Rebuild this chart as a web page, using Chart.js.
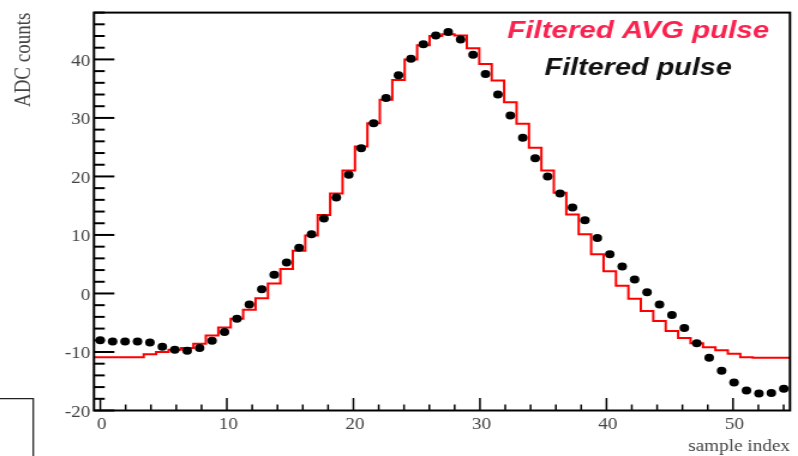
<!DOCTYPE html>
<html>
<head>
<meta charset="utf-8">
<script src="https://cdn.jsdelivr.net/npm/chart.js@4.4.1/dist/chart.umd.min.js"></script>
<style>
  html, body { margin: 0; padding: 0; background: #fff; }
</style>
</head>
<body>
<!-- drawn at 665 wide and stretched to 798 on screen, like the old ROOT export -->
<canvas id="pulseChart" width="665" height="456" style="width:798px;height:456px;display:block"></canvas>
<script>
const xRange = [-0.5, 54.5];
const yRange = [-20, 48];
const xTickValues = [0, 10, 20, 30, 40, 50];
const yTickValues = [-20, -10, 0, 10, 20, 30, 40];

// filtered pulse, one value per sample (ADC counts)
const pulse = [
  -8.0, -8.2, -8.2, -8.2, -8.4, -9.1, -9.6, -9.8, -9.3, -8.1,
  -6.6, -4.3, -1.9, 0.7, 3.2, 5.3, 7.8, 10.1, 12.8, 16.4,
  20.3, 24.8, 29.1, 33.4, 37.3, 40.1, 42.6, 44.1, 44.7, 43.4,
  40.8, 37.5, 34.0, 30.4, 26.6, 23.1, 20.0, 17.1, 14.7, 12.5,
  9.5, 6.7, 4.6, 2.4, 0.2, -1.9, -3.7, -5.9, -8.5, -11.0,
  -13.2, -15.2, -16.6, -17.1, -17.0, -16.3
];

// filtered average pulse, same binning
const avgPulse = [
  -10.9, -10.9, -10.9, -10.9, -10.4, -10.0, -9.6, -9.3, -8.6, -7.2,
  -5.8, -4.3, -2.8, -0.8, 1.7, 4.2, 7.3, 9.9, 13.4, 17.1,
  21.0, 25.1, 29.1, 33.1, 36.5, 40.0, 42.4, 44.0, 44.3, 44.1,
  41.9, 39.2, 36.4, 32.7, 29.0, 24.9, 21.0, 17.2, 13.5, 10.1,
  6.7, 3.8, 1.3, -0.9, -3.0, -4.7, -6.4, -7.6, -8.5, -9.2,
  -9.7, -10.3, -10.9, -11.0, -11.0, -11.0
];

const seriesNames = ['Filtered AVG pulse', 'Filtered pulse'];

const axisFont = 'Liberation Serif';
const axisColor = '#444';

// samples fill the x range evenly, marks sit at the bin centres
const binWidth = (xRange[1] - xRange[0]) / pulse.length;
const binCenter = (i) => xRange[0] + binWidth * (i + 0.5);

const pulsePoints = pulse.map((v, i) => ({ x: binCenter(i), y: v }));
const avgPoints = [
  { x: xRange[0], y: avgPulse[0] },
  ...avgPulse.map((v, i) => ({ x: binCenter(i), y: v })),
  { x: xRange[1], y: avgPulse[avgPulse.length - 1] }
];

// frame, inward ticks and the two text labels
const rootFramePlugin = {
  id: 'rootFrame',
  afterDatasetsDraw: (chart) => {
    const { ctx, chartArea: a, scales: { x, y } } = chart;
    ctx.save();
    ctx.strokeStyle = '#000';

    ctx.lineWidth = 2;
    for (let v = yRange[0]; v <= yRange[1]; v += 2) {
      const py = y.getPixelForValue(v);
      const len = v % 10 === 0 ? 17 : 9;
      ctx.beginPath();
      ctx.moveTo(a.left, py);
      ctx.lineTo(a.left + len, py);
      ctx.stroke();
    }

    ctx.lineWidth = 1.5;
    for (let v = 0; v <= xRange[1]; v += 2) {
      const px = x.getPixelForValue(v);
      const len = v % 10 === 0 ? 12.5 : 6;
      ctx.beginPath();
      ctx.moveTo(px, a.bottom);
      ctx.lineTo(px, a.bottom - len);
      ctx.stroke();
    }

    ctx.lineWidth = 2;
    ctx.strokeRect(a.left, a.top, a.right - a.left, a.bottom - a.top);
    ctx.restore();
  },
  afterDraw: (chart) => {
    const { ctx, chartArea: a } = chart;
    const cx = a.right - 126.5;
    ctx.save();
    ctx.textAlign = 'center';
    ctx.textBaseline = 'alphabetic';
    ctx.font = 'italic bold 24.6px "Liberation Sans"';
    ctx.fillStyle = '#fa2350';
    ctx.fillText(seriesNames[0], cx, 38.3);
    ctx.font = 'italic bold 24px "Liberation Sans"';
    ctx.fillStyle = '#111';
    ctx.fillText(seriesNames[1], cx, 75);

    // corner of the neighbouring pad
    ctx.strokeStyle = '#222';
    ctx.lineWidth = 1.25;
    ctx.beginPath();
    ctx.moveTo(-2, 398.5);
    ctx.lineTo(27.7, 398.5);
    ctx.lineTo(27.7, 460);
    ctx.stroke();
    ctx.restore();
  }
};

const ctx = document.getElementById('pulseChart').getContext('2d');

new Chart(ctx, {
  type: 'line',
  data: {
    datasets: [
      {
        label: seriesNames[1],
        data: pulsePoints,
        showLine: false,
        pointRadius: 4,
        pointBorderWidth: 0,
        pointBackgroundColor: '#000'
      },
      {
        label: seriesNames[0],
        data: avgPoints,
        stepped: 'middle',
        borderColor: '#ff0000',
        borderWidth: 2,
        pointRadius: 0,
        fill: false
      }
    ]
  },
  options: {
    responsive: false,
    animation: false,
    events: [],
    layout: {
      padding: { left: 0, right: 6.7, top: 7, bottom: 0 }
    },
    plugins: {
      legend: { display: false },
      tooltip: { enabled: false }
    },
    scales: {
      x: {
        type: 'linear',
        min: xRange[0],
        max: xRange[1],
        grid: { display: false, drawTicks: false },
        border: { display: false },
        afterBuildTicks: (scale) => {
          scale.ticks = xTickValues.map((value) => ({ value }));
        },
        afterFit: (scale) => { scale.height = 45.5; },
        ticks: {
          color: axisColor,
          font: { family: axisFont, size: 16 },
          padding: 5,
          labelOffset: 1.2,
          maxRotation: 0,
          autoSkip: false
        },
        title: {
          display: true,
          text: 'sample index',
          align: 'end',
          color: axisColor,
          font: { family: axisFont, size: 16 },
          padding: { top: 0, bottom: 0 }
        }
      },
      y: {
        type: 'linear',
        min: yRange[0],
        max: yRange[1],
        grid: { display: false, drawTicks: false },
        border: { display: false },
        afterBuildTicks: (scale) => {
          scale.ticks = yTickValues.map((value) => ({ value }));
        },
        afterFit: (scale) => { scale.width = 78.3; },
        ticks: {
          color: axisColor,
          font: { family: axisFont, size: 16 },
          padding: 3,
          labelOffset: 2
        },
        title: {
          display: true,
          text: 'ADC counts',
          align: 'end',
          color: axisColor,
          font: { family: axisFont, size: 19 },
          padding: { top: 8.6, bottom: 0 }
        }
      }
    }
  },
  plugins: [rootFramePlugin]
});
</script>
</body>
</html>
